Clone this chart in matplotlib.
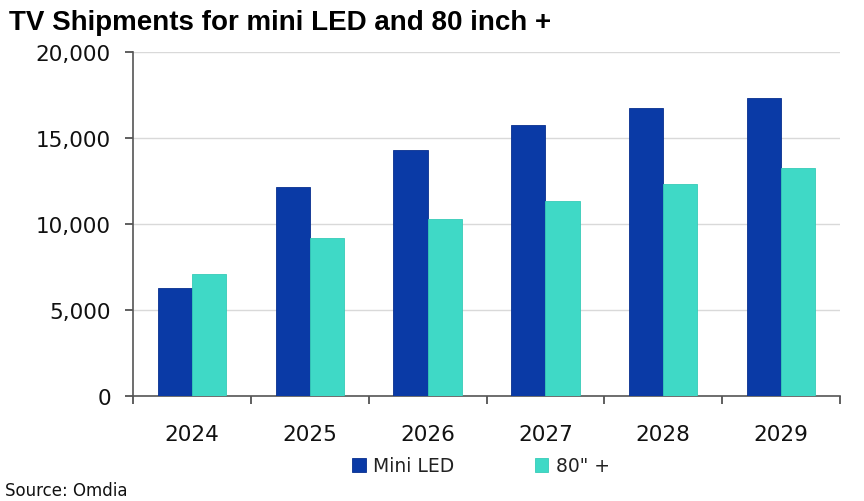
import matplotlib
matplotlib.use("Agg")
import matplotlib.pyplot as plt
import numpy as np

years = ["2024", "2025", "2026", "2027", "2028", "2029"]
mini_led = [6300, 12150, 14300, 15750, 16750, 17330]
inch80 = [7100, 9200, 10300, 11350, 12330, 13260]
series_names = ["Mini LED", "80\" +"]
yticks = [0, 5000, 10000, 15000, 20000]

c_mini = "#0a3aa6"
c_80 = "#3fd9c6"

fig = plt.figure(figsize=(8.64, 5.02), dpi=100)
ax = fig.add_axes([133/864, 1-397/502, (840-133)/864, (397-53)/502])

x = np.arange(len(years))
w = 0.29
b1 = ax.bar(x - w/2, mini_led, w, color=c_mini, edgecolor="#072f8f", linewidth=0.6, label=series_names[0], zorder=3)
b2 = ax.bar(x + w/2, inch80, w, color=c_80, edgecolor="#36cbb8", linewidth=0.6, label=series_names[1], zorder=3)

ax.set_xlim(-0.5, len(years) - 0.5)
ax.set_ylim(0, 20000)
ax.set_yticks(yticks)
ax.set_yticklabels([f"{v:,}" for v in yticks], fontsize=15.5, family="DejaVu Sans", color="#111111")
ax.set_xticks(x)
ax.set_xticklabels(years, fontsize=15.5, family="DejaVu Sans", color="#111111")
ax.tick_params(axis="x", which="major", length=0, pad=20)
ax.set_xticks(np.arange(-0.5, len(years)), minor=True)
ax.tick_params(axis="x", which="minor", length=6, width=1.2, color="#444444", direction="out")
ax.tick_params(axis="y", length=6, width=1.2, color="#444444", direction="out", pad=10)

ax.grid(axis="y", color="#d9d9d9", linewidth=1, zorder=0)
for s in ["top", "right"]:
    ax.spines[s].set_visible(False)
for s in ["left", "bottom"]:
    ax.spines[s].set_color("#555555")
    ax.spines[s].set_linewidth(1.2)

fig.text(9/864, 1-23/502, "TV Shipments for mini LED and 80 inch +", fontsize=20,
         fontweight="bold", family="Liberation Sans", va="center", ha="left", color="#000000")

leg = fig.legend(handles=[b1, b2], labels=series_names, loc="center", bbox_to_anchor=(481/864, 1-467/502),
                 ncol=2, frameon=False, handlelength=0.7, handleheight=0.7,
                 handletextpad=0.4, columnspacing=4.3, prop={"family": "DejaVu Sans", "size": 13.5})
for t in leg.get_texts():
    t.set_color("#222222")

fig.text(5/864, 1-491/502, "Source: Omdia", fontsize=12, family="DejaVu Sans", va="center", ha="left", color="#111111")

fig.savefig("out.png", dpi=100)
